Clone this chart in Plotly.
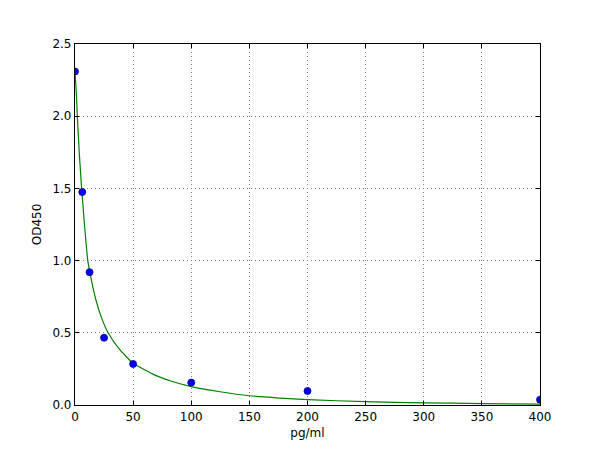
import plotly.graph_objects as go

# measured standards
conc = [0, 6.25, 12.5, 25, 50, 100, 200, 400]
od = [2.31, 1.475, 0.92, 0.466, 0.284, 0.155, 0.097, 0.037]

# fitted curve
curve_x = [0, 1.15, 2, 3.7, 5.7, 8.3, 11, 14, 18, 23, 28.7, 38.7, 50, 67.4, 81.7, 100, 124.7,
           150, 176, 200, 250, 300, 350, 400]
curve_y = [2.31, 2.16, 2.0, 1.743, 1.5, 1.235, 1.0, 0.87, 0.727, 0.6, 0.497, 0.381, 0.29, 0.212,
           0.168, 0.127, 0.092, 0.064, 0.048, 0.037, 0.023, 0.015, 0.01, 0.006]

x_ticks = [0, 50, 100, 150, 200, 250, 300, 350, 400]
y_ticks = [0.0, 0.5, 1.0, 1.5, 2.0, 2.5]

fig = go.Figure()
fig.add_trace(go.Scatter(x=curve_x, y=curve_y, mode="lines",
                         line=dict(color="#008000", width=1.2, shape="spline", smoothing=0.5),
                         hoverinfo="skip", showlegend=False))
fig.add_trace(go.Scatter(x=conc, y=od, mode="markers",
                         marker=dict(color="#0000ff", size=7, line=dict(color="#00007f", width=0.8)),
                         showlegend=False))

axis_common = dict(
    showgrid=True, gridcolor="#808080", griddash="1px,3px", gridwidth=1,
    showline=True, linecolor="black", linewidth=1.2, mirror="ticks",
    ticks="inside", ticklen=4, tickcolor="black", tickwidth=1,
    zeroline=False,
    tickfont=dict(family="DejaVu Sans", size=12, color="black"),
)

fig.update_xaxes(range=[0, 400], tickvals=x_ticks, ticktext=[str(v) for v in x_ticks],
                 title=dict(text="pg/ml", font=dict(family="DejaVu Sans", size=12, color="black"), standoff=6),
                 **axis_common)
fig.update_yaxes(range=[0, 2.5], tickvals=y_ticks, ticktext=[f"{v:.1f}" for v in y_ticks],
                 title=dict(text="OD450", font=dict(family="DejaVu Sans", size=12, color="black"), standoff=8),
                 **axis_common)

fig.update_layout(width=592, height=442,
                  margin=dict(l=67, r=60, t=36, b=45),
                  paper_bgcolor="white", plot_bgcolor="white",
                  font=dict(family="DejaVu Sans", size=12, color="black"))

fig.write_html("out.html")
